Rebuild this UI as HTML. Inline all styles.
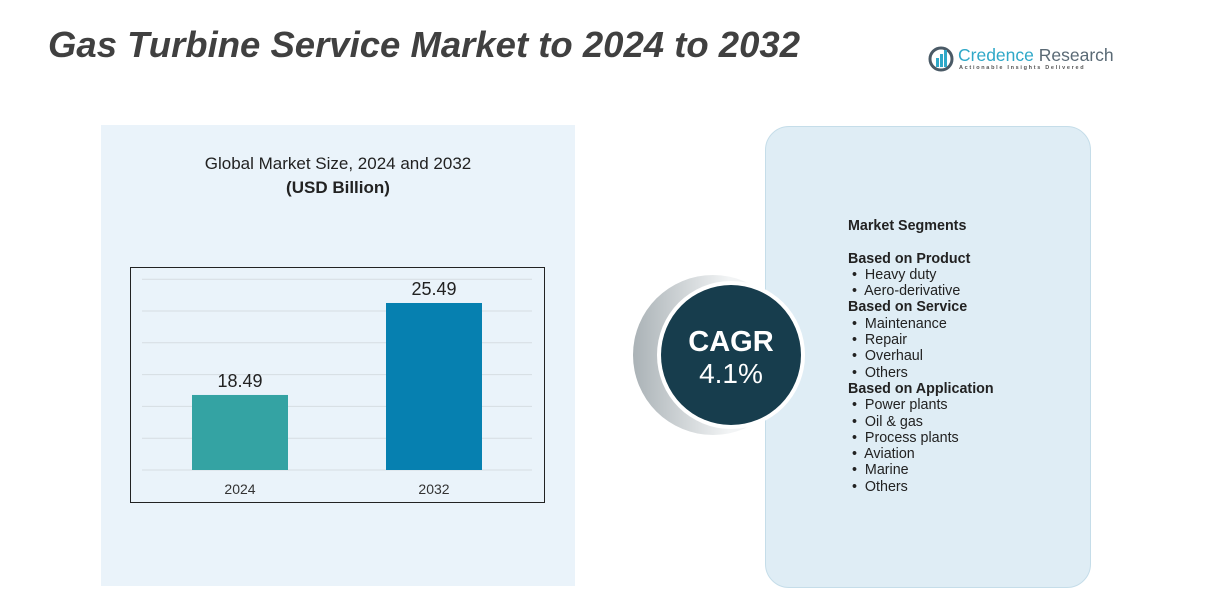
<!DOCTYPE html>
<html><head><meta charset="utf-8"><style>
body{margin:0;width:1217px;height:602px;background:#fff;position:relative;overflow:hidden;font-family:"Liberation Sans",sans-serif;}
.abs{position:absolute;}
.seg{font-size:14.3px;color:#222;line-height:16.3px;}
.seg b{font-weight:bold;}
</style></head><body>
<div class="abs" style="left:48px;top:24px;font-size:36.5px;font-weight:bold;font-style:italic;color:#404040;">Gas Turbine Service Market to 2024 to 2032</div>
<div class="abs" style="left:928px;top:44px;width:200px;height:30px;">
<svg width="30" height="30"><circle cx="13" cy="15" r="11" fill="none" stroke="#4a5a66" stroke-width="3"/><rect x="8" y="14" width="3" height="9" fill="#2fa8c8"/><rect x="12" y="10" width="3" height="13" fill="#2fa8c8"/><rect x="16" y="6" width="3" height="17" fill="#2fa8c8"/></svg>
<div class="abs" style="left:30px;top:1px;font-size:17.5px;color:#2fa8c8;white-space:nowrap;">Credence <span style="color:#5a6a75">Research</span></div>
<div class="abs" style="left:31px;top:21px;font-size:5.5px;letter-spacing:1.7px;color:#555;white-space:nowrap;font-weight:bold;">Actionable Insights Delivered</div>
</div>
<div class="abs" style="left:101px;top:125px;width:474px;height:461px;background:#eaf3fa;"></div>
<div class="abs" style="left:101px;top:154px;width:474px;text-align:center;font-size:17px;color:#222;">Global Market Size, 2024 and 2032<br><b style="line-height:28px">(USD Billion)</b></div>
<svg class="abs" style="left:0;top:0" width="1217" height="602" id="chart">
<rect x="130.5" y="267.5" width="414" height="235" fill="none" stroke="#222" stroke-width="1"/>
<g id="g"></g>
</svg>
<div class="abs" style="left:765px;top:126px;width:324px;height:460px;border-radius:24px;background:#dfedf5;border:1px solid #c5dde9;"></div>
<svg class="abs" style="left:620px;top:265px" width="200" height="180">
<defs><linearGradient id="cr" x1="0" x2="1"><stop offset="0" stop-color="#aab2b6"/><stop offset="0.6" stop-color="#f2f4f5"/></linearGradient></defs>
<circle cx="93" cy="90" r="80" fill="url(#cr)"/>
<circle cx="111" cy="90" r="74" fill="#fff"/>
<circle cx="111" cy="90" r="70" fill="#173d4d"/>
<text x="111" y="86" text-anchor="middle" fill="#fff" font-size="29" font-weight="bold" font-family="Liberation Sans">CAGR</text>
<text x="111" y="118" text-anchor="middle" fill="#fff" font-size="28" font-family="Liberation Sans">4.1%</text>
</svg>
<div class="abs seg" style="left:848px;top:218px;">
<b>Market Segments</b><br><br>
<b>Based on Product</b><br>&nbsp;•&nbsp; Heavy duty<br>&nbsp;•&nbsp; Aero-derivative<br>
<b>Based on Service</b><br>&nbsp;•&nbsp; Maintenance<br>&nbsp;•&nbsp; Repair<br>&nbsp;•&nbsp; Overhaul<br>&nbsp;•&nbsp; Others<br>
<b>Based on Application</b><br>&nbsp;•&nbsp; Power plants<br>&nbsp;•&nbsp; Oil &amp; gas<br>&nbsp;•&nbsp; Process plants<br>&nbsp;•&nbsp; Aviation<br>&nbsp;•&nbsp; Marine<br>&nbsp;•&nbsp; Others
</div>
<script>
const categories=["2024","2032"];
const values=[18.49,25.49];
const labels=["18.49","25.49"];
const colors=["#34a3a3","#0680b0"];
const NS="http://www.w3.org/2000/svg";
const g=document.getElementById('g');
const base=470,axMin=12.78,pxPer=13.14;
function y(v){return base-(v-axMin)*pxPer;}
const xs=[192,386],bw=96;
for(let i=0;i<7;i++){const l=document.createElementNS(NS,'line');
l.setAttribute('x1',142);l.setAttribute('x2',532);l.setAttribute('y1',base-i*31.8);l.setAttribute('y2',base-i*31.8);
l.setAttribute('stroke','#d6dde2');


g.appendChild(l);}
categories.forEach((c,i)=>{
const r=document.createElementNS(NS,'rect');
r.setAttribute('x',xs[i]);r.setAttribute('width',bw);r.setAttribute('y',y(values[i]));r.setAttribute('height',base-y(values[i]));r.setAttribute('fill',colors[i]);


g.appendChild(r);
const t=document.createElementNS(NS,'text');
t.setAttribute('x',xs[i]+bw/2);t.setAttribute('y',y(values[i])-8);t.setAttribute('text-anchor','middle');t.setAttribute('font-size','18');t.setAttribute('fill','#222');t.setAttribute('font-family','Liberation Sans');
t.textContent=labels[i];


g.appendChild(t);
const a=document.createElementNS(NS,'text');
a.setAttribute('x',xs[i]+bw/2);a.setAttribute('y',494);a.setAttribute('text-anchor','middle');a.setAttribute('font-size','14');a.setAttribute('fill','#333');a.setAttribute('font-family','Liberation Sans');
a.textContent=c;


g.appendChild(a);
});
</script>
</body></html>
